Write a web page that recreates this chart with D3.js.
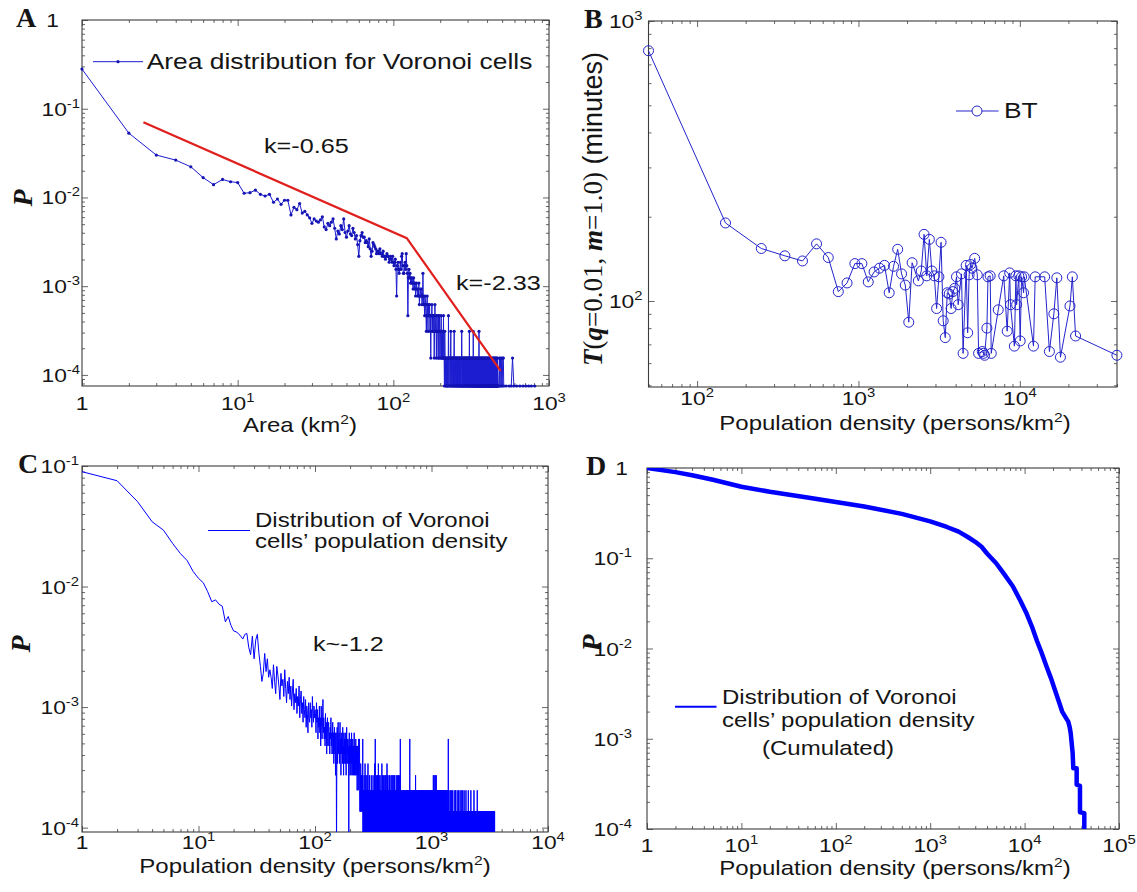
<!DOCTYPE html>
<html>
<head>
<meta charset="utf-8">
<script src="https://cdn.jsdelivr.net/npm/d3@7/dist/d3.min.js"></script>
<style>
  body { margin: 0; background: #fff; }
  svg { display: block; }
  text { font-family: "Liberation Sans", Arial, sans-serif; fill: #151515; }
  .serif { font-family: "Liberation Serif", "Times New Roman", serif; }
</style>
</head>
<body>
<svg id="fig" width="1137" height="892"></svg>
<script>
// ---- A: area histogram of Voronoi cells (1 km2 bins, counts) ----
var areaUnit = 1.55e-4;   // probability of a single cell
var areaCounts = [
  1806,342,194,170,143,108,90,103,97,95, 72,73,78,70,67,70,57,62,54,60,
  60,41,50,47,55,43,45,41,38,33, 37,35,34,36,39,30,28,33,31,34,
  37,29,22,27,25,31,28,37,26,23, 27,31,25,24,29,26,22,24,19,14,
  21,24,26,23,23,20,21,20,18,22, 17,14,16,20,19,18,17,15,16,16,
  15,17,15,15,14,16,14,14,13,14, 15,14,14,12,13,14,13,12,14,12,
  11,12,13,10,5,11,12,10,9,10, 12,10,14,15,11,9,9,11,12,10,
  15,11,9,3,8,10,8,9,7,8, 7,8,7,6,8,7,6,7,5,6,
  7,6,5,6,5,7,4,5,5,6, 6,5,4,5,9,4,5,4,3,5,
  4,3,2,4,5,3,2,4,3,3, 4,2,3,1,3,3,4,2,3,2,
  3,3,1,2,4,2,2,3,1,2, 3,2,2,1,3,2,1,3,2,2,
  2,1,3,1,2,2,1,2,1,3, 1,1,0,2,1,1,0,1,1,0,
  1,0,1,1,0,3,1,0,1,1, 1,0,1,2,0,1,1,0,1,1,
  0,1,1,0,1,2,0,1,0,1, 1,0,1,1,0,1,0,1,1,0,
  1,0,1,1,0,1,0,1,0,1, 1,0,0,1,2,1,0,1,0,0, 1,1,0,1,0,1,0,1,1,0, 0,1,0,1,1,0,1,0,0,1,
  1,0,1,0,1,1,0,2,0,0, 1,0,1,1,0,1,0,0,1,0, 1,0,1,0,0,2,1,0,1,0, 0,1,0,1,0,1,0,0,1,0,
  1,0,0,1,1,0,0,1,0,1, 0,0,1,0,2,0,1,0,0,1,
  0,1,0,0,1,0,1,0,0,1, 0,0,1,1,0,0,1,0,0,1, 0,1,0,0,0,1,0,1,0,0, 1,0,0,1,0,0,1,0,1,0,
  0,0,1,0,0,1,0,0,0,1, 0,1,0,0,1,0,0,0,1,0, 0,1,0,0,0,1,0,0,1,0, 0,0,1,0,0,0,1,0,0,0,
  1,0,0,1,0,0,0,0,1,0, 0,0,1,0,0,0,0,1,0,0, 0,1,0,0,0,0,1,0,0,0
];
// sparse large-area bins [area, count]
var areaTail = [[475,0],[480,1],[483,0],[488,1],[492,0],[497,1],[500,0],[505,1],[509,1],[512,0],
  [530,0],[555,0],[572,0],[583,1],[595,0],[620,0],[650,0],[680,0],[710,0],[740,0],[770,0],[810,0]];
var areaFitX = [2.48, 122, 489];
var areaFitP = [0.0703, 3.48e-3, 1.11e-4];
var areaXTicks = [1, 10, 100, 1000];
var areaYTicks = [1e-4, 1e-3, 1e-2, 1e-1, 1];

// ---- B: BT vs population density ----
var btDensity = [50,150,250,350,450,550,650,750,850,950,1050,1150,1250,1350,1450,1550,1650,1750,1850,1950,
  2050,2150,2350,2450,2550,2650,2750,2850,2950,3050,3150,3250,3350,3450,3550,3650,3750,3850,3950,4050,
  4150,4350,4450,4650,4750,4850,4950,5050,5250,5450,5550,5850,5950,6050,6250,6350,6550,6650,7350,7950,
  8350,8650,8750,9250,9450,9550,9850,10050,10250,10550,10650,12150,12450,14250,15250,16250,16950,17850,
  20450,21150,22150,39950];
var btMinutes = [783,190,154,145,139,160,143,108,116,136,136,117,127,131,134,107,133,153,125,114,
  84,137,118,128,173,123,166,128,123,94,122,162,85,74,107,106,94,108,111,122,
  97,125,65,134,77,124,135,131,142,124,65,66,65,64,80,122,123,65,93,123,
  78,126,97,69,123,97,123,72,122,107,122,69,122,122,66,90,121,63,
  96,122,75,64];
var btXTicks = [100, 1000, 10000];
var btYTicks = [100, 1000];

// ---- C: population density histogram (1 person/km2 bins, counts) ----
var popUnit = 6.8e-5;
var popCounts = [
  1319,1110,744,507,432,335,276,241,196,172, 158,133,110,114,105,101,75,83,70,63,
  62,60,57,54,59,60,46,40,57,37, 53,59,41,32,24,28,41,29,37,26,
  30,26,21,33,24,19,32,27,22,17, 28,22,25,18,30,21,16,24,19,26,
  17,22,15,20,25,14,19,16,21,13, 18,15,22,12,17,20,13,16,11,18,
  14,12,17,10,15,13,9,16,12,11, 16,12,14,10,18,13,11,15,12,14,
  13,9,16,11,14,8,12,10,15,9, 12,7,15,10,8,11,17,9,12,8,
  10,7,13,8,11,6,9,12,7,10, 11,7,9,6,10,8,12,7,9,6,
  8,11,6,9,5,8,10,6,9,4, 7,9,1,6,10,5,8,11,6,8,
  9,5,7,11,6,8,4,9,6,7, 8,5,10,6,7,4,9,6,8,5,
  7,9,5,8,4,7,10,6,5,8, 6,8,5,7,1,6,9,5,7,4,
  7,5,8,4,6,9,5,7,4,6, 8,5,6,4,7,5,9,4,6,5,
  7,4,6,8,5,4,7,5,6,3, 5,7,4,6,3,5,8,4,5,6,
  8,3,2,4,3,2,5,3,2,4, 3,2,4,3,2,3,8,1,3,2,
  1,3,2,4,1,2,3,1,5,2, 3,1,2,4,2,1,3,2,1,4,
  2,3,1,2,5,1,3,2,1,3, 2,1,4,2,1,3,2,1,2,3
];
// bins 301..3480, one digit (count) per bin
var popTailCounts =
  "2314213122 3121421312 2132513182 1231241321 3214122315 1322413121 2431213212 3121522131 4213123141 2312132412" +
  "1321421231 3212514213 2143121321 3122141213 1231232141 2213121421 3122134121 2312143212 1432121321 2131221412" +
  "3121232141 2213121321 2412131223 1214123128 1213121221 3121211231 2112131212 1221312112 2131211213 1212213121" +
  "2113121212 3121121321 1231211212 2121312113 1212131214 8121213121 2112312121 3121211212 1231212113 2121321121" +
  "1213121231 2121112312 1312121214 2113121212 1231211212 1121312121 2131121213 1212112131 2121312112 1312121121" +
  "2112131212 1213112121 3121211213 1212131121 2121121312 1312112121 2113121212 1212131121 2131211212 1121213121" +
  "2312112121 1213121211 2121131212 1312121121 2112131212 1211213121 3121121212 1213112121 2121211312 1312121121" +
  "2112121312 1211312121 2121121213 2131214121 1231312121 2141213121 1213121312 2121314121 1312121213 2121312141" +
  "1213121231 2131212121 1312131212 1212131212 2131211213 1213121312 1212131121 3121212131 2121312121 1312121213" +
  "2121131212 1213121213 2121312112 1213121212 1121213121 2312121121 1212131212 1121213121 2121121312 1212112121" +
  "3121212112 1212131211 2121121213 1212112121 2121131212 1121212112 1213121211 2121121212 1121312121 2128121121" +
  "1212112121 3121211212 1121212112 1212121121 2112121312 1121212112 1212112121 2121121213 1211212121 1212112121" +
  "2112121211 3121211212 1121212121 2112121212 1121211212 1212121121 2112131212 1121212112 1212112121 2121121212" +
  "1121213121 2112121211 2121121212 1121212112 1212112121 2112121213 1211212121 1212112121 2121121212 1121211212" +
  "1312121121 2112121212 1121212112 1212112121 2112121212 1121213121 2112121211 2121121212 1121212112 1212112131" +
  "2112121212 1121211212 1212121121 2112121212 1121212112 1312112121 2112121211 2121121212 1121212112 1212112121" +
  "2112131212 1121211212 1212121121 2112121212 1121212112 1212112121 2112121211 2121131212 1121212112 1212112121" +
  "2112121212 1121211212 1212121121 2112121211 1121212112 1212112121 2112121213 2121121212 1121211211 1212112121" +
  "2112121212 1121211212 1211121121 2112121211 1121211112 1212112121 2112121211 2121121312 1121211211 1212112121" +
  "2112121211 1121211212 1211121121 2111121211 1121211112 1212112121 2112111211 2121121212 1121211211 1212112111" +
  "2112121211 1121311212 1211121121 2111121211 1121211112 1211112121 2112111211 2121121211 1121211211 1212112111" +
  "2112121211 1121211212 1211121121 2111121211 1121211112 1211112121 2112111213 2121121211 1121211211 1212112111" +
  "2112121211 1121211211 1211121121 2111121211 1121211112 1211112121 2112111211 2121121211 1121211211 1211112111" +
  "2112121211 1121211211 1211121121 2111121211 1121211112 1211112121 2112111211 2121112211 1121211211 1211112111" +
  "2112121211 1121211211 1211121121 2111121211 1121211112 1211112121 2112111211 2121121211 1121121211 1211112111" +
  "2112121211 1121211211 1211121121 2111121211 1121211112 1111211211 1121111112 1211112111 2111111211 1121111211" +
  "1121211111 1211112111 2111121111 1121111211 1111121121 1111211211 1121111112 1211112111 2111111211 1121111211" +
  "1121211111 1211112111 2111121111 1121111211 1111121121 1111211211 1121111112 1211112111 2111111211 1121111211" +
  "1111211111 1211112111 2111121111 1121111211 1111121121 1111211211 1121111112 1211112111 2111111211 1121111211" +
  "1121211111 1211112111 2111111111 1121111211 1111121121 1111211211 1121111112 1211112111 2111111211 1121111211" +
  "1121211111 1211112111 2111121111 1121111211 1111121121 1111211211 1121111112 1211112111 2111111211 1121111211" +
  "1121211111 1211112111 2111121111 1121111211 1111121121 1111211211 1121111112 1211112112";
var popXTicks = [1, 10, 100, 1000, 10000];
var popYTicks = [1e-4, 1e-3, 1e-2, 1e-1];

// ---- D: cumulative distribution of population density ----
var cumDensity = [1,2,3,5,10,20,50,100,200,500,1000,1500,2000,2500,3000,3500,4000,5000,6000,7500,
  9000,10500,12000,13500,15000,17000,19000,21000,23000,25000,27000,29000,30000,30800,32300,32800,
  35600,35600,38600,38600,42900,42900];
var cumP = [1,0.90,0.83,0.74,0.62,0.545,0.47,0.42,0.375,0.31,0.256,0.222,0.197,0.172,0.152,0.134,0.113,
  0.088,0.068,0.049,0.034,0.0244,0.0173,0.0122,0.0092,0.0064,0.0047,0.00345,0.0026,0.0020,0.00175,
  0.00155,0.00135,0.00115,0.00069,0.00047,0.00047,0.00031,0.00030,0.000153,0.000150,0.00007];
var cumXTicks = [1, 10, 100, 1e3, 1e4, 1e5];
var cumYTicks = [1e-4, 1e-3, 1e-2, 1e-1, 1];

var SX = 1.2;   // the figure is horizontally stretched
var blue = '#0000ff';
var svg = d3.select('#fig');

function isPow10(v) {
  var l = Math.log10(v);
  return Math.abs(l - Math.round(l)) < 1e-6;
}

// text with horizontal stretch; parts: strings or {t, sup, down}
function stext(g, x, y, size, anchor, parts) {
  var t = g.append('text')
    .attr('transform', 'translate(' + x + ',' + y + ') scale(' + SX + ',1)')
    .attr('font-size', size)
    .attr('text-anchor', anchor || 'start');
  parts.forEach(function(p) {
    if (typeof p === 'string') { t.append('tspan').text(p); return; }
    var s = t.append('tspan').text(p.t);
    if (p.sup) s.attr('font-size', size * 0.65).attr('dy', -size * 0.42);
    if (p.down) s.attr('dy', size * 0.42);
  });
  return t;
}

function tickText(v) {
  var e = Math.round(Math.log10(v));
  return e === 0 ? ['1'] : ['10', {t: String(e), sup: true}];
}

function panel(c) {
  var g = svg.append('g');
  var x = d3.scaleLog().domain(c.xDomain).range([c.left, c.right]);
  var y = d3.scaleLog().domain(c.yDomain).range([c.bottom, c.top]);
  var w = c.right - c.left, h = c.bottom - c.top;

  svg.append('clipPath').attr('id', 'clip' + c.name)
    .append('rect').attr('x', c.left).attr('y', c.top).attr('width', w).attr('height', h);

  var xMinor = x.ticks().filter(function(v) { return !isPow10(v); });
  var yMinor = y.ticks().filter(function(v) { return !isPow10(v); });
  var axes = [
    [d3.axisBottom(x), 'translate(0,' + c.bottom + ')', xMinor, c.xTicks],
    [d3.axisTop(x), 'translate(0,' + c.top + ')', xMinor, c.xTicks],
    [d3.axisLeft(y), 'translate(' + c.left + ',0)', yMinor, c.yTicks],
    [d3.axisRight(y), 'translate(' + c.right + ',0)', yMinor, c.yTicks]
  ];
  axes.forEach(function(a) {
    [[a[2], 3], [a[3], 6]].forEach(function(set) {
      var ax = g.append('g').attr('transform', a[1])
        .call(a[0].tickValues(set[0]).tickSize(-set[1]).tickFormat(''));
      ax.select('.domain').remove();
      ax.selectAll('line').attr('stroke', '#555').attr('stroke-width', 0.9);
    });
  });
  g.append('rect').attr('x', c.left).attr('y', c.top).attr('width', w).attr('height', h)
    .attr('fill', 'none').attr('stroke', '#3c3c3c').attr('stroke-width', 1.1);

  // tick labels
  c.xTicks.forEach(function(v) {
    stext(g, x(v), c.bottom + c.xLabOff, 19, 'middle', tickText(v));
  });
  c.yTicks.forEach(function(v) {
    var one = Math.round(Math.log10(v)) === 0;
    stext(g, one ? c.left - c.oneGap : c.left - c.yGap, y(v) + 7, 19, 'end', tickText(v));
  });
  return {g: g, x: x, y: y, clip: 'url(#clip' + c.name + ')'};
}

function panelLetter(txt, x, y) {
  svg.append('text').attr('class', 'serif').attr('x', x).attr('y', y)
    .attr('font-size', 28).attr('font-weight', 'bold').text(txt);
}
function yTitleP(x, y) {
  svg.append('text').attr('class', 'serif')
    .attr('transform', 'translate(' + x + ',' + y + ') rotate(-90)')
    .attr('text-anchor', 'middle').attr('font-size', 28)
    .attr('font-weight', 'bold').attr('font-style', 'italic').text('P');
}
function xTitle(g, x, y) {
  stext(g, x, y, 20, 'middle', ['Population density (persons/km', {t: '2', sup: true}, {t: ')', down: true}]);
}

// ================= Panel A =================
var A = panel({name: 'A', left: 82, right: 549, top: 20, bottom: 386,
  xDomain: [1, 1000], yDomain: [7.5e-5, 1], xTicks: areaXTicks, yTicks: areaYTicks,
  xLabOff: 24, yGap: 2, oneGap: 23});
var areaPts = areaCounts.map(function(c, i) { return [i + 1, c]; }).concat(areaTail)
  .map(function(d) { return [d[0], d[1] > 0 ? d[1] * areaUnit : A.y.domain()[0]]; });
var lineA = d3.line().x(function(d) { return A.x(d[0]); }).y(function(d) { return A.y(d[1]); });
A.g.append('path').datum(areaPts).attr('d', lineA)
  .attr('fill', 'none').attr('stroke', '#1c1cd0').attr('stroke-width', 1);
A.g.append('g').selectAll('circle').data(areaPts).enter().append('circle')
  .attr('cx', function(d) { return A.x(d[0]); }).attr('cy', function(d) { return A.y(d[1]); })
  .attr('r', 1.6).attr('fill', '#1414b4');
A.g.append('path').datum(d3.zip(areaFitX, areaFitP)).attr('d', lineA)
  .attr('fill', 'none').attr('stroke', '#e0201e').attr('stroke-width', 2.2);
stext(A.g, 264, 153, 21, 'start', ['k=-0.65']);
stext(A.g, 456, 290, 21, 'start', ['k=-2.33']);
// legend
A.g.append('line').attr('x1', 93).attr('x2', 143).attr('y1', 61.7).attr('y2', 61.7)
  .attr('stroke', '#1c1cd0').attr('stroke-width', 1);
A.g.append('circle').attr('cx', 118).attr('cy', 61.7).attr('r', 1.6).attr('fill', '#1414b4');
stext(A.g, 146.7, 69.3, 22, 'start', ['Area distribution for Voronoi cells']);
stext(A.g, 300, 432, 20, 'middle', ['Area (km', {t: '2', sup: true}, {t: ')', down: true}]);
panelLetter('A', 16, 27);
yTitleP(32, 198);

// ================= Panel B =================
var B = panel({name: 'B', left: 648.5, right: 1117, top: 21, bottom: 387,
  xDomain: [50, 40000], yDomain: [49.3, 1000], xTicks: btXTicks, yTicks: btYTicks,
  xLabOff: 18, yGap: 6, oneGap: 20});
var btPts = d3.zip(btDensity, btMinutes);
var lineB = d3.line().x(function(d) { return B.x(d[0]); }).y(function(d) { return B.y(d[1]); });
B.g.append('path').datum(btPts).attr('d', lineB)
  .attr('fill', 'none').attr('stroke', '#2424cc').attr('stroke-width', 1);
B.g.append('g').selectAll('circle').data(btPts).enter().append('circle')
  .attr('cx', function(d) { return B.x(d[0]); }).attr('cy', function(d) { return B.y(d[1]); })
  .attr('r', 5).attr('fill', 'none').attr('stroke', '#2424cc').attr('stroke-width', 1);
B.g.append('line').attr('x1', 956).attr('x2', 998.6).attr('y1', 111).attr('y2', 111)
  .attr('stroke', '#2424cc').attr('stroke-width', 1);
B.g.append('circle').attr('cx', 977).attr('cy', 111).attr('r', 5)
  .attr('fill', '#fff').attr('stroke', '#2424cc').attr('stroke-width', 1);
stext(B.g, 1004, 118, 22, 'start', ['BT']);
xTitle(B.g, 895, 430);
panelLetter('B', 584, 28);
var bt = svg.append('text').attr('transform', 'translate(602,209) rotate(-90)')
  .attr('text-anchor', 'middle').attr('font-size', 27);
[['T', 'bi'], ['(', 's'], ['q', 'bi'], ['=0.01, ', 's'], ['m', 'bi'], ['=1.0)', 's'], [' (minutes)', 'n']]
  .forEach(function(p) {
    var s = bt.append('tspan').text(p[0]);
    if (p[1] !== 'n') s.attr('class', 'serif');
    if (p[1] === 'bi') s.attr('font-weight', 'bold').attr('font-style', 'italic');
  });

// ================= Panel C =================
var C = panel({name: 'C', left: 82, right: 548, top: 466, bottom: 832,
  xDomain: [1, 10000], yDomain: [9.2e-5, 0.1], xTicks: popXTicks, yTicks: popYTicks,
  xLabOff: 17, yGap: 3, oneGap: 20});
var popAll = popCounts.concat(popTailCounts.replace(/\s/g, '').split('').map(Number));
var popPts = popAll.map(function(c, i) { return [i + 1, c * popUnit]; });
C.g.append('path').datum(popPts).attr('clip-path', C.clip)
  .attr('d', d3.line().x(function(d) { return C.x(d[0]); }).y(function(d) { return C.y(d[1]); }))
  .attr('fill', 'none').attr('stroke', blue).attr('stroke-width', 1);
stext(C.g, 313, 651, 21, 'start', ['k~-1.2']);
C.g.append('line').attr('x1', 208).attr('x2', 250).attr('y1', 530.5).attr('y2', 530.5)
  .attr('stroke', blue).attr('stroke-width', 1);
stext(C.g, 255, 527, 20, 'start', ['Distribution of Voronoi']);
stext(C.g, 255, 548, 20, 'start', ['cells\u2019 population density']);
xTitle(C.g, 315, 873);
panelLetter('C', 18, 473);
yTitleP(30, 644);

// ================= Panel D =================
var D = panel({name: 'D', left: 647, right: 1119, top: 468, bottom: 829,
  xDomain: [1, 1e5], yDomain: [1e-4, 1], xTicks: cumXTicks, yTicks: cumYTicks,
  xLabOff: 23, yGap: 15, oneGap: 19});
D.g.append('path').datum(d3.zip(cumDensity, cumP)).attr('clip-path', D.clip)
  .attr('d', d3.line().x(function(d) { return D.x(d[0]); }).y(function(d) { return D.y(d[1]); }))
  .attr('fill', 'none').attr('stroke', blue).attr('stroke-width', 4.5)
  .attr('stroke-linejoin', 'round');
D.g.append('line').attr('x1', 675).attr('x2', 716.5).attr('y1', 706.7).attr('y2', 706.7)
  .attr('stroke', blue).attr('stroke-width', 2);
stext(D.g, 722, 704, 20, 'start', ['Distribution of Voronoi']);
stext(D.g, 722, 727, 20, 'start', ['cells\u2019 population density']);
stext(D.g, 762, 755, 20, 'start', ['(Cumulated)']);
xTitle(D.g, 895, 875);
panelLetter('D', 586, 475);
yTitleP(601, 643);
</script>
</body>
</html>
